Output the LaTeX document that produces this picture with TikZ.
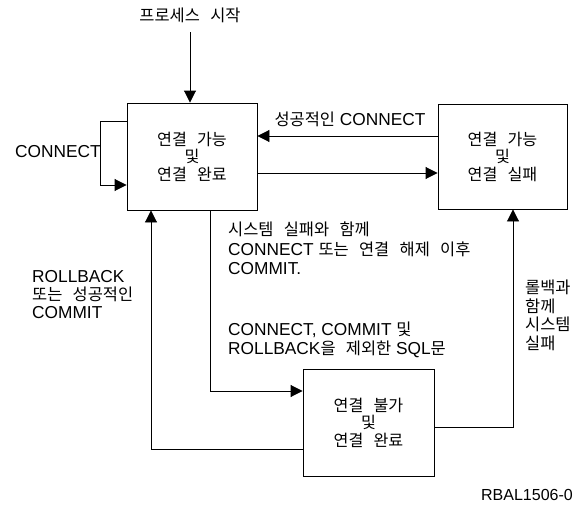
\documentclass[tikz,border=0pt]{standalone}
\usepackage{fontspec}
\setmainfont{Liberation Sans}
\newfontfamily\kr[Scale=0.95,WordSpace=2.8]{Noto Sans CJK KR}
\newcommand\K[1]{{\kr #1}}
\usetikzlibrary{arrows.meta}
\tikzset{
  box/.style={draw, line width=0.9pt, minimum width=130pt, minimum height=107pt, inner sep=0pt, align=center, font=\fontsize{17}{17.5}\selectfont},
  lbl/.style={inner sep=0pt, align=left, font=\fontsize{17.3}{18.5}\selectfont},
  arr/.style={line width=0.9pt, -{Triangle[length=12pt,width=12pt]}},
}
\begin{document}
\begin{tikzpicture}[x=1pt,y=-1pt]
\useasboundingbox (0,0) rectangle (574,514);
% boxes
\node[box] (A) at (192,156.5) {\K{연결 가능}\\\K{및}\\\K{연결 완료}};
\node[box, minimum width=129pt, minimum height=105pt] (B) at (502.5,156.5) {\K{연결 가능}\\\K{및}\\\K{연결 실패}};
\node[box, minimum width=131pt] (C) at (368.5,422.5) {\K{연결 불가}\\\K{및}\\\K{연결 완료}};
% helper coordinates
\coordinate (lx) at (151,0);
\coordinate (dx) at (210,0);
\coordinate (bx) at (513,0);
% labels
\node[lbl] (start) at (190,15) {\K{프로세스 시작}};
\node[lbl, anchor=west] (conn) at (15,152) {CONNECT};
\node[lbl] (succ) at (350,119) {\K{성공적인} CONNECT};
\node[lbl, anchor=west, font=\fontsize{17.3}{19.5}\selectfont] (t1) at (228,248.5) {\K{시스템 실패와 함께}\\CONNECT \K{또는 연결 해제 이후}\\COMMIT.};
\node[lbl, anchor=west] (t2) at (228,340) {CONNECT, COMMIT \K{및}\\ROLLBACK\K{을 제외한} SQL\K{문}};
\node[lbl, anchor=west] (t3) at (525,315.5) {\K{롤백과}\\\K{함께}\\\K{시스템}\\\K{실패}};
\node[lbl, anchor=west, font=\fontsize{17.3}{18}\selectfont] (t4) at (32,295) {ROLLBACK\\\K{또는 성공적인}\\COMMIT};
\node[lbl, anchor=east, font=\fontsize{16}{18}\selectfont] (id) at (573,495) {RBAL1506-0};
% connectors
\draw[arr] (start.south |- 0,32) -- (start.south |- A.north);
\draw[arr] ([yshift=20.5pt]B.west) -- ([yshift=20.5pt]A.east);
\draw[arr] ([yshift=-16.5pt]A.east) -- ([yshift=-16.5pt]B.west);
\draw[arr] ([yshift=35.5pt]A.west) -- ++(-26pt,0) |- ([yshift=-28.5pt]A.west);
\draw[arr] (A.south -| dx) |- ([yshift=31.5pt]C.west);
\draw[arr] ([yshift=-26.5pt]C.west) -| (A.south -| lx);
\draw[arr] ([yshift=-4.5pt]C.east) -| (B.south -| bx);
\end{tikzpicture}
\end{document}
